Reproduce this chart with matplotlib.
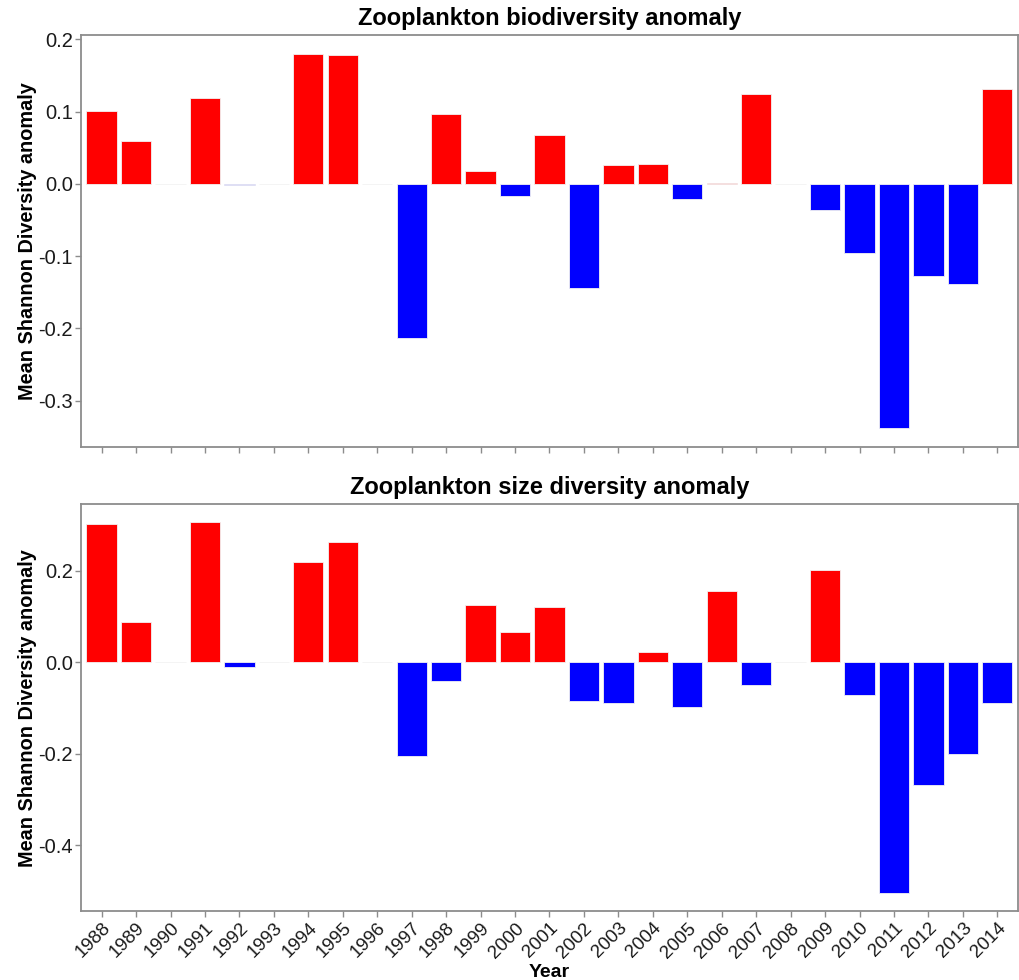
import numpy as np
import matplotlib
matplotlib.use("Agg")
import matplotlib.pyplot as plt
import matplotlib.transforms as mtransforms

plt.rcParams['font.family'] = ['Liberation Sans', 'DejaVu Sans']

years = list(range(1988, 2015))

# Mean Shannon diversity anomalies (NaN = no sampling that year)
biodiversity = [0.101, 0.059, np.nan, 0.119, -0.001, np.nan, 0.180, 0.178, np.nan,
                -0.213, 0.097, 0.018, -0.017, 0.067, -0.144, 0.026, 0.028, -0.021,
                0.001, 0.124, np.nan, -0.036, -0.095, -0.338, -0.128, -0.138, 0.131]

size_diversity = [0.302, 0.089, np.nan, 0.307, -0.010, np.nan, 0.220, 0.264, np.nan,
                  -0.205, -0.040, 0.125, 0.067, 0.122, -0.085, -0.088, 0.022, -0.098,
                  0.155, -0.049, np.nan, 0.201, -0.072, -0.504, -0.268, -0.201, -0.089]

titles = ["Zooplankton biodiversity anomaly", "Zooplankton size diversity anomaly"]
ylabel = "Mean Shannon Diversity anomaly"
xlabel = "Year"

top_ticks = [0.2, 0.1, 0.0, -0.1, -0.2, -0.3]
bottom_ticks = [0.2, 0.0, -0.2, -0.4]

POS = "#ff0000"
NEG = "#0000ff"
SPINE = "#8c8c8c"

fig = plt.figure(figsize=(10.2, 9.8), dpi=100)
ax_top = fig.add_axes([0.0794, 0.5439, 0.9186, 0.4204])
ax_bot = fig.add_axes([0.0794, 0.0701, 0.9186, 0.4156])


def draw(ax, values, title, ticks, ylim, show_labels):
    vals = np.array(values, dtype=float)
    colors = [POS if (not np.isnan(v) and v >= 0) else NEG for v in vals]
    ax.bar(years, np.nan_to_num(vals), width=0.88, color=colors,
           edgecolor="#f2f2f2", linewidth=0.6, zorder=2)
    ax.set_xlim(1987.40, 2014.60)
    ax.set_ylim(*ylim)
    ax.set_yticks(ticks)
    ax.set_yticklabels([f"{t:.1f}" for t in ticks], fontsize=14.5, color="#1a1a1a")
    ax.set_xticks(years)
    if show_labels:
        labels = ax.set_xticklabels([str(y) for y in years], rotation=45, ha="right",
                                    va="top", rotation_mode="anchor",
                                    fontsize=13.5, color="#1a1a1a")
        shift = mtransforms.ScaledTranslation(4 / 72, 0, fig.dpi_scale_trans)
        for lab in labels:
            lab.set_transform(lab.get_transform() + shift)
    else:
        ax.set_xticklabels([])
    for s in ax.spines.values():
        s.set_color(SPINE)
        s.set_linewidth(1.3)
    ax.tick_params(axis="both", direction="out", color=SPINE, length=4, width=1, pad=2)
    ax.set_title(title, fontsize=17, fontweight="bold", pad=7)
    ax.set_ylabel(ylabel, fontsize=14.3, fontweight="bold", labelpad=1)


draw(ax_top, biodiversity, titles[0], top_ticks, (-0.364, 0.206), False)
draw(ax_bot, size_diversity, titles[1], bottom_ticks, (-0.544, 0.346), True)
ax_bot.set_xlabel(xlabel, fontsize=14, fontweight="bold", labelpad=0)
ax_bot.xaxis.set_label_coords(0.5, -0.13)

fig.savefig("out.png", dpi=100)
